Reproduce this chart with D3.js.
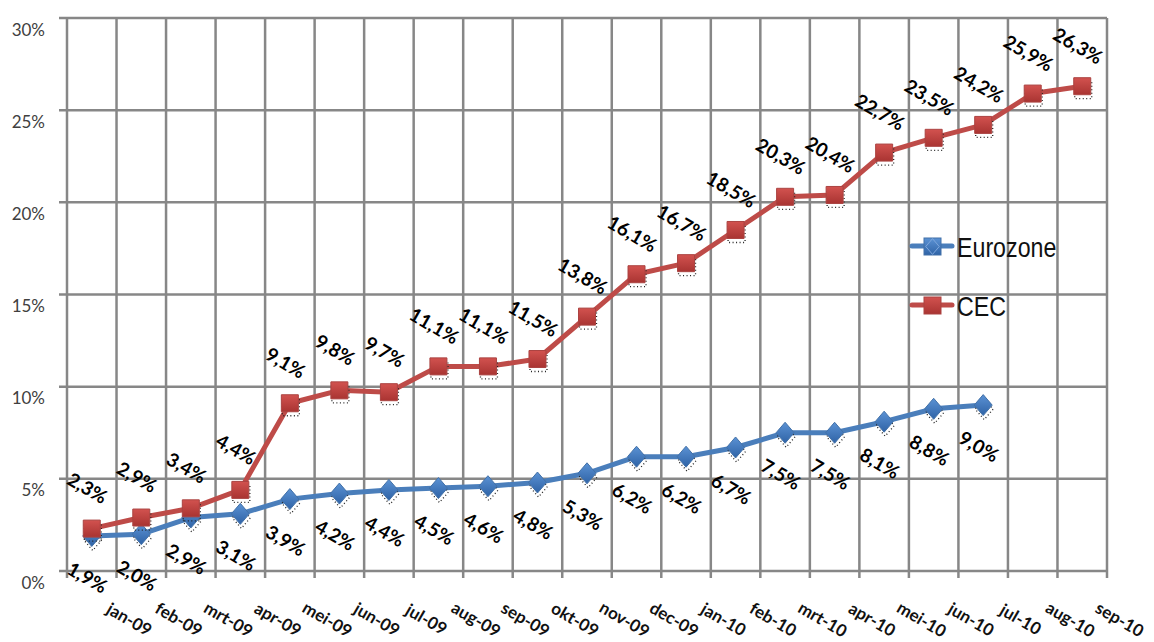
<!DOCTYPE html>
<html>
<head>
<meta charset="utf-8">
<script src="https://cdn.jsdelivr.net/npm/d3@7/dist/d3.min.js"></script>
<style>
  body { margin: 0; background: #fff; }
  svg { display: block; }
</style>
</head>
<body>
<svg id="chart"></svg>
<script>
// data
var months = ['jan-09','feb-09','mrt-09','apr-09','mei-09','jun-09','jul-09','aug-09','sep-09','okt-09',
  'nov-09','dec-09','jan-10','feb-10','mrt-10','apr-10','mei-10','jun-10','jul-10','aug-10','sep-10'];
var eurozone = [1.9, 2.0, 2.9, 3.1, 3.9, 4.2, 4.4, 4.5, 4.6, 4.8, 5.3, 6.2, 6.2, 6.7, 7.5, 7.5, 8.1, 8.8, 9.0];
var cec = [2.3, 2.9, 3.4, 4.4, 9.1, 9.8, 9.7, 11.1, 11.1, 11.5, 13.8, 16.1, 16.7, 18.5, 20.3, 20.4, 22.7, 23.5, 24.2, 25.9, 26.3];
var yTicks = [0, 5, 10, 15, 20, 25, 30];

const W = 1154, H = 642;
const plotL = 67, plotR = 1107, plotT = 18, plotB = 571;
const gridColor = '#878787';
const euroColor = '#4a7ebb', cecColor = '#be4b48';

const svg = d3.select('#chart').attr('width', W).attr('height', H);

// marker gradients
var defs = svg.append('defs');
[['gEuro', '#5b92d4', '#2f63a6'], ['gCec', '#d2524f', '#a93432']].forEach(g => {
  var lg = defs.append('linearGradient').attr('id', g[0]).attr('x1', 0).attr('y1', 0).attr('x2', 0).attr('y2', 1);
  lg.append('stop').attr('offset', '0%').attr('stop-color', g[1]);
  lg.append('stop').attr('offset', '100%').attr('stop-color', g[2]);
});

var x = d3.scaleBand().domain(months).range([plotL, plotR]).padding(0);
var y = d3.scaleLinear().domain([0, 30]).range([plotB, plotT]);
var cx = m => x(m) + x.bandwidth() / 2;

// squat diamond like the Excel marker
var diamond = {
  draw(ctx, size) {
    var w = 9, h = 10.5;
    ctx.moveTo(0, -h); ctx.lineTo(w, 0); ctx.lineTo(0, h); ctx.lineTo(-w, 0); ctx.closePath();
  }
};

// horizontal grid + ticks
svg.append('g').selectAll('line').data(yTicks).enter().append('line')
  .attr('x1', plotL - 8).attr('x2', plotR)
  .attr('y1', d => y(d)).attr('y2', d => y(d))
  .attr('stroke', gridColor).attr('stroke-width', 2.5);

// vertical grid, one line per band edge
var edges = months.map(m => x(m)).concat([plotR]);
svg.append('g').selectAll('line').data(edges).enter().append('line')
  .attr('x1', d => d).attr('x2', d => d)
  .attr('y1', plotT).attr('y2', plotB + 7)
  .attr('stroke', gridColor).attr('stroke-width', 2.5);

// y labels (sit a bit below their gridline, like the original)
svg.append('g').selectAll('text').data(yTicks).enter().append('text')
  .attr('x', 45).attr('y', d => y(d) + 11)
  .attr('text-anchor', 'end').attr('dominant-baseline', 'central')
  .style('font-family', 'Lato, sans-serif')
  .style('font-size', '17px').style('fill', '#404040')
  .text(d => d + '%');

// x labels, rotated
svg.append('g').selectAll('text').data(months).enter().append('text')
  .attr('transform', m => `translate(${x(m) + x.bandwidth() + 13},${619}) rotate(30)`)
  .attr('text-anchor', 'middle').attr('dominant-baseline', 'central')
  .style('font-family', 'Lato, sans-serif').style('font-weight', 'bold')
  .style('font-size', '17px').style('fill', '#111')
  .text(m => m);

var line = d3.line().x((d, i) => cx(months[i])).y(d => y(d));

function drawSeries(vals, color, grad, shape, labelDy) {
  var g = svg.append('g');
  g.append('path').datum(vals).attr('d', line)
    .attr('fill', 'none').attr('stroke', color).attr('stroke-width', 5)
    .attr('stroke-linejoin', 'round');

  var sym = d3.symbol().type(shape).size(289);

  // dotted shadow under markers
  g.selectAll('.shadow').data(vals).enter().append('path')
    .attr('class', 'shadow')
    .attr('transform', (d, i) => `translate(${cx(months[i]) + 1},${y(d) + 4})`)
    .attr('d', sym).attr('fill', 'none')
    .attr('stroke', '#222').attr('stroke-width', 1.3).attr('stroke-dasharray', '1,2.5');

  g.selectAll('.mark').data(vals).enter().append('path')
    .attr('class', 'mark')
    .attr('transform', (d, i) => `translate(${cx(months[i])},${y(d)})`)
    .attr('d', sym).attr('fill', `url(#${grad})`)
    .attr('stroke', d3.color(color).darker(0.3)).attr('stroke-width', 1);

  g.selectAll('.lbl').data(vals).enter().append('text')
    .attr('class', 'lbl')
    .attr('transform', (d, i) => `translate(${cx(months[i]) - 4},${y(d) + labelDy}) rotate(30)`)
    .attr('text-anchor', 'middle').attr('dominant-baseline', 'central')
    .style('font-family', 'Lato, sans-serif').style('font-weight', 'bold')
    .style('font-size', '19px').style('fill', '#000')
    .text(d => d3.format('.1f')(d).replace('.', ',') + '%');
}

drawSeries(eurozone, euroColor, 'gEuro', diamond, 41);
drawSeries(cec, cecColor, 'gCec', d3.symbolSquare, -41);

// legend
var legend = [{name: 'Eurozone', color: euroColor, grad: 'gEuro', y: 246},
              {name: 'CEC', color: cecColor, grad: 'gCec', y: 305}];
var lg = svg.append('g').selectAll('g').data(legend).enter().append('g')
  .attr('transform', d => `translate(912,${d.y})`);
lg.append('line').attr('x1', 0).attr('x2', 40)
  .attr('stroke', d => d.color).attr('stroke-width', 5).attr('stroke-linecap', 'round');
lg.append('rect').attr('x', 12).attr('y', -8).attr('width', 17).attr('height', 17)
  .attr('fill', d => `url(#${d.grad})`).attr('stroke', d => d3.color(d.color).darker(0.3));
lg.filter(d => d.name === 'Eurozone').append('path')
  .attr('transform', 'translate(20.5,0.5) scale(0.75)')
  .attr('d', d3.symbol().type(diamond)())
  .attr('fill', 'none').attr('stroke', '#7fa8dc').attr('stroke-width', 1.3);
lg.append('text').attr('transform', 'translate(45,1) scale(0.86,1)')
  .attr('dominant-baseline', 'central')
  .style('font-family', 'Liberation Sans, Arial, sans-serif')
  .style('font-size', '27px').style('fill', '#111')
  .text(d => d.name);
</script>
</body>
</html>
